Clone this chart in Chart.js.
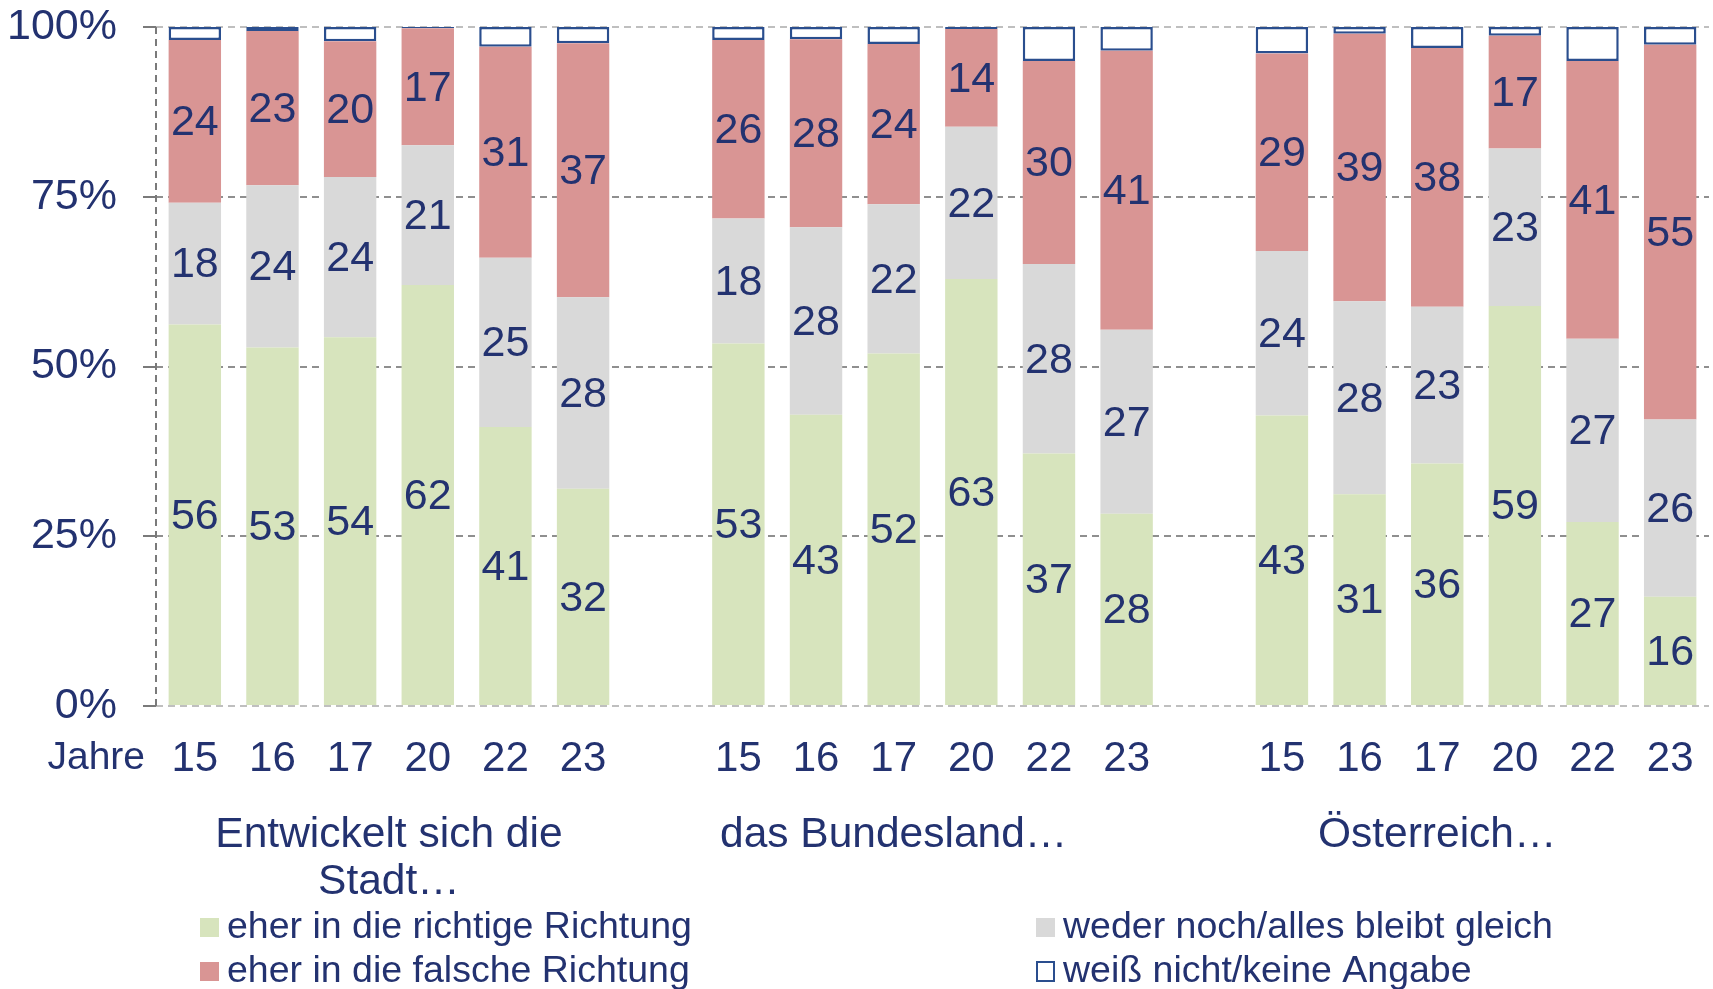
<!DOCTYPE html>
<html>
<head>
<meta charset="utf-8">
<script src="https://cdn.jsdelivr.net/npm/chart.js@4.4.1/dist/chart.umd.min.js"></script>
<style>
  body { margin: 0; background: #fff; }
  #wrap { width: 1713px; height: 989px; }
</style>
</head>
<body>
<div id="wrap"><canvas id="analyticsChart" width="1713" height="989"></canvas></div>
<script>
// years per group, blank category between groups
const years = ["15", "16", "17", "20", "22", "23", "", "15", "16", "17", "20", "22", "23", "", "15", "16", "17", "20", "22", "23"];
const groupTitles = [["Entwickelt sich die", "Stadt…"], ["das Bundesland…"], ["Österreich…"]];

const richtig = [56.2, 52.8, 54.3, 62.0, 41.1, 32.0, null, 53.4, 42.9, 51.9, 62.9, 37.2, 28.3, null, 42.8, 31.2, 35.7, 58.9, 27.1, 16.1];
const wederNoch = [17.9, 23.9, 23.6, 20.6, 24.9, 28.2, null, 18.4, 27.6, 22.0, 22.4, 27.9, 27.1, null, 24.2, 28.4, 23.1, 23.2, 27.0, 26.1];
const falsch = [24.0, 22.7, 20.0, 17.2, 31.1, 37.4, null, 26.3, 27.7, 23.6, 14.4, 29.9, 41.1, null, 29.1, 39.4, 38.1, 16.6, 40.9, 55.2];
const keineAngabe = [1.9, 0.6, 2.1, 0.2, 2.9, 2.4, null, 1.9, 1.8, 2.5, 0.3, 5.0, 3.5, null, 3.9, 1.0, 3.1, 1.3, 5.0, 2.6];

const yTicks = [0, 25, 50, 75, 100];

const navy = "#233270";
const fontName = "'Liberation Sans', Arial, sans-serif";

// data labels inside segments + extra texts (Jahre, group titles, legend)
const extrasPlugin = {
  id: "extras",
  beforeDatasetsDraw(chart) {
    const ctx = chart.ctx;
    const a = chart.chartArea;
    ctx.save();
    ctx.strokeStyle = "#7A7A7A";
    ctx.lineWidth = 2;
    ctx.setLineDash([7, 5]);
    ctx.beginPath();
    ctx.moveTo(a.left, a.top);
    ctx.lineTo(a.left, a.bottom);
    ctx.stroke();
    ctx.restore();
  },
  afterDatasetsDraw(chart) {
    const ctx = chart.ctx;
    ctx.save();
    ctx.font = "43px " + fontName;
    ctx.fillStyle = navy;
    ctx.textAlign = "center";
    ctx.textBaseline = "middle";
    for (let i = 0; i < 3; i++) {
      const meta = chart.getDatasetMeta(i);
      meta.data.forEach((bar, j) => {
        const v = chart.data.datasets[i].data[j];
        if (v == null) return;
        const p = bar.getProps(["x", "y", "base"], true);
        ctx.fillText(Math.round(v), p.x, (p.y + p.base) / 2 + 2);
      });
    }
    ctx.restore();
  },
  afterDraw(chart) {
    const ctx = chart.ctx;
    const x = chart.scales.x;
    ctx.save();
    ctx.fillStyle = navy;
    ctx.textBaseline = "middle";

    // "Jahre"
    ctx.font = "39px " + fontName;
    ctx.textAlign = "right";
    ctx.fillText("Jahre", x.left - 11, 758);

    // group titles
    const spans = [[0, 5], [6, 12], [13, 19]];
    ctx.font = "42.5px " + fontName;
    ctx.textAlign = "center";
    groupTitles.forEach((lines, g) => {
      const cx = (x.getPixelForValue(spans[g][0]) + x.getPixelForValue(spans[g][1])) / 2;
      lines.forEach((t, k) => ctx.fillText(t, cx, 835 + k * 47));
    });

    // legend, two columns
    ctx.font = "37.5px " + fontName;
    ctx.textAlign = "left";
    const cols = [200, 1036];
    const rows = [927, 971];
    const order = [0, 2, 1, 3];
    order.forEach((dsIndex, k) => {
      const ds = chart.data.datasets[dsIndex];
      const lx = cols[Math.floor(k / 2)];
      const ly = rows[k % 2];
      if (ds.borderWidth) {
        ctx.fillStyle = "#fff";
        ctx.fillRect(lx, ly - 9, 18, 18);
        ctx.strokeStyle = ds.borderColor;
        ctx.lineWidth = 2;
        ctx.strokeRect(lx + 1, ly - 9, 17, 19);
      } else {
        ctx.fillStyle = ds.backgroundColor;
        ctx.fillRect(lx, ly - 9, 19, 19);
      }
      ctx.fillStyle = navy;
      ctx.fillText(ds.label, lx + 27, ly + 1);
    });
    ctx.restore();
  },
};

const ctx = document.getElementById("analyticsChart").getContext("2d");
window.myChart = new Chart(ctx, {
  type: "bar",
  data: {
    labels: years,
    datasets: [
      {
        label: "eher in die richtige Richtung",
        data: richtig,
        backgroundColor: "#D7E4BD",
        borderWidth: 0,
      },
      {
        label: "weder noch/alles bleibt gleich",
        data: wederNoch,
        backgroundColor: "#D9D9D9",
        borderWidth: 0,
      },
      {
        label: "eher in die falsche Richtung",
        data: falsch,
        backgroundColor: "#D99594",
        borderWidth: 0,
      },
      {
        label: "weiß nicht/keine Angabe",
        data: keineAngabe,
        backgroundColor: "#FFFFFF",
        borderColor: "#2A4E8E",
        borderWidth: 2.5,
        borderSkipped: false,
      },
    ],
  },
  options: {
    responsive: false,
    animation: false,
    layout: { padding: { top: 27, right: 4, left: 0, bottom: 0 } },
    datasets: {
      bar: { barPercentage: 0.675, categoryPercentage: 1 },
    },
    plugins: {
      legend: { display: false },
      tooltip: { enabled: false },
    },
    scales: {
      x: {
        stacked: true,
        grid: { display: false },
        border: { display: false },
        ticks: {
          color: navy,
          font: { family: fontName, size: 42 },
          padding: 20,
          maxRotation: 0,
          autoSkip: false,
        },
        afterFit(scale) {
          scale.height = 283;
          scale.paddingLeft = 0;
          scale.paddingRight = 0;
        },
      },
      y: {
        stacked: true,
        min: 0,
        max: 100,
        afterBuildTicks(scale) {
          scale.ticks = yTicks.map((v) => ({ value: v }));
        },
        grid: {
          color: (c) => (c.tick && (c.tick.value === 0 || c.tick.value === 100) ? "#BFBFBF" : "#8F8F8F"),
          lineWidth: 2,
          tickLength: 13,
          tickColor: "#7A7A7A",
        },
        border: { display: false, dash: [7, 5] },
        ticks: {
          color: navy,
          font: { family: fontName, size: 43 },
          padding: 26,
          callback: (v) => v + "%",
        },
        afterFit(scale) {
          scale.width = 156;
          scale.paddingTop = 0;
          scale.paddingBottom = 0;
        },
      },
    },
  },
  plugins: [extrasPlugin],
});
</script>
</body>
</html>
